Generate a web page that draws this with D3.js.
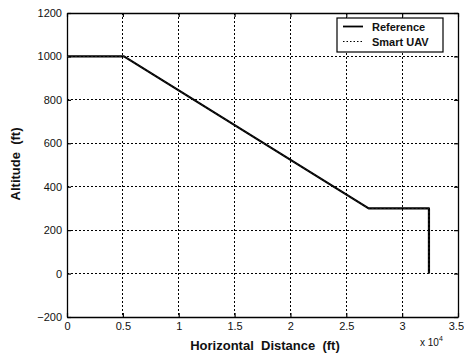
<!DOCTYPE html>
<html>
<head>
<meta charset="utf-8">
<script src="https://cdn.jsdelivr.net/npm/d3@7"></script>
<style>
  html, body { margin: 0; padding: 0; background: #fff; }
  svg { display: block; font-family: "Liberation Sans", Arial, sans-serif; }
  text { white-space: pre; }
</style>
</head>
<body>
<svg id="chart" width="464" height="355"></svg>
<script>
// Descent profile: horizontal distance (ft) vs altitude (ft)
const referenceDist = [0, 5100, 27000, 32400, 32400];
const referenceAlt  = [1000, 1000, 300, 300, 0];
const uavDist = [0, 5100, 27000, 32400, 32400];
const uavAlt  = [1000, 1000, 300, 300, 0];

const xTicks = [0, 5000, 10000, 15000, 20000, 25000, 30000, 35000];
const xTickLabels = ["0", "0.5", "1", "1.5", "2", "2.5", "3", "3.5"];
const yTicks = [-200, 0, 200, 400, 600, 800, 1000, 1200];

const seriesNames = ["Reference", "Smart UAV"];

const svg = d3.select("#chart");
const plotLeft = 67, plotRight = 458, plotTop = 13, plotBottom = 317;

const x = d3.scaleLinear().domain([0, 35000]).range([plotLeft, plotRight]);
const y = d3.scaleLinear().domain([-200, 1200]).range([plotBottom, plotTop]);

// grid
const grid = svg.append("g").attr("stroke", "#000").attr("stroke-width", 1)
  .attr("stroke-dasharray", "1.5,2.5").attr("shape-rendering", "crispEdges");
xTicks.slice(1, -1).forEach(t => {
  grid.append("line").attr("x1", x(t)).attr("x2", x(t)).attr("y1", plotTop).attr("y2", plotBottom);
});
yTicks.slice(1, -1).forEach(t => {
  grid.append("line").attr("x1", plotLeft).attr("x2", plotRight).attr("y1", y(t)).attr("y2", y(t));
});

// axes with inward ticks
const xAxis = svg.append("g").attr("transform", `translate(0,${plotBottom})`)
  .call(d3.axisBottom(x).tickValues(xTicks).tickFormat((d, i) => xTickLabels[i]).tickSizeInner(-4).tickSizeOuter(0).tickPadding(8));
const xAxisTop = svg.append("g").attr("transform", `translate(0,${plotTop})`)
  .call(d3.axisTop(x).tickValues(xTicks).tickFormat("").tickSizeInner(-4).tickSizeOuter(0));
const yAxis = svg.append("g").attr("transform", `translate(${plotLeft},0)`)
  .call(d3.axisLeft(y).tickValues(yTicks).tickFormat(d3.format("d")).tickSizeInner(-4).tickSizeOuter(0).tickPadding(5));
const yAxisRight = svg.append("g").attr("transform", `translate(${plotRight},0)`)
  .call(d3.axisRight(y).tickValues(yTicks).tickFormat("").tickSizeInner(-4).tickSizeOuter(0));

[xAxis, xAxisTop, yAxis, yAxisRight].forEach(g => {
  g.select(".domain").attr("stroke", "#000").attr("stroke-width", 1.3);
  g.selectAll(".tick line").attr("stroke", "#000").attr("stroke-width", 1.2);
  g.selectAll("text").attr("font-size", 11).attr("fill", "#111").attr("font-family", "'Liberation Sans', Arial, sans-serif");
});
xAxis.selectAll("text").attr("dy", "0.45em");
// keep the last label inside the frame edge
xAxis.selectAll(".tick").filter(d => d === 35000).select("text")
  .attr("text-anchor", "end").attr("x", 5.5);

// series
const line = d3.line().x(d => x(d[0])).y(d => y(d[1]));
const refData = referenceDist.map((d, i) => [d, referenceAlt[i]]);
const uavData = uavDist.map((d, i) => [d, uavAlt[i]]);

svg.append("path").datum(refData).attr("d", line)
  .attr("fill", "none").attr("stroke", "#000").attr("stroke-width", 2.2).attr("stroke-linejoin", "round");
svg.append("path").datum(uavData).attr("d", line)
  .attr("fill", "none").attr("stroke", "#222").attr("stroke-width", 1).attr("stroke-dasharray", "2,2");

// legend
const lg = svg.append("g");
lg.append("rect").attr("x", 337).attr("y", 18).attr("width", 106).attr("height", 34)
  .attr("fill", "#fff").attr("stroke", "#000").attr("stroke-width", 1.2);
lg.append("line").attr("x1", 343).attr("x2", 363).attr("y1", 26.5).attr("y2", 26.5)
  .attr("stroke", "#000").attr("stroke-width", 1.8);
lg.append("line").attr("x1", 343).attr("x2", 363).attr("y1", 41.5).attr("y2", 41.5)
  .attr("stroke", "#000").attr("stroke-width", 1).attr("stroke-dasharray", "1.5,2");
lg.selectAll("text.leg").data(seriesNames).join("text")
  .attr("x", 372).attr("y", (d, i) => 30.5 + i * 15)
  .attr("font-size", 11).attr("font-weight", "bold").attr("fill", "#111")
  .text(d => d);

// axis titles
svg.append("text").attr("x", 265).attr("y", 350).attr("text-anchor", "middle")
  .attr("font-size", 13).attr("font-weight", "bold").attr("fill", "#111")
  .text("Horizontal  Distance  (ft)");
svg.append("text").attr("transform", "translate(20,164) rotate(-90)").attr("text-anchor", "middle")
  .attr("font-size", 13).attr("font-weight", "bold").attr("fill", "#111")
  .text("Altitude  (ft)");

// exponent marker
const ex = svg.append("text").attr("x", 420).attr("y", 346).attr("font-size", 10).attr("fill", "#111");
ex.append("tspan").text("x 10");
ex.append("tspan").attr("dy", -5).attr("font-size", 7).text("4");
</script>
</body>
</html>
